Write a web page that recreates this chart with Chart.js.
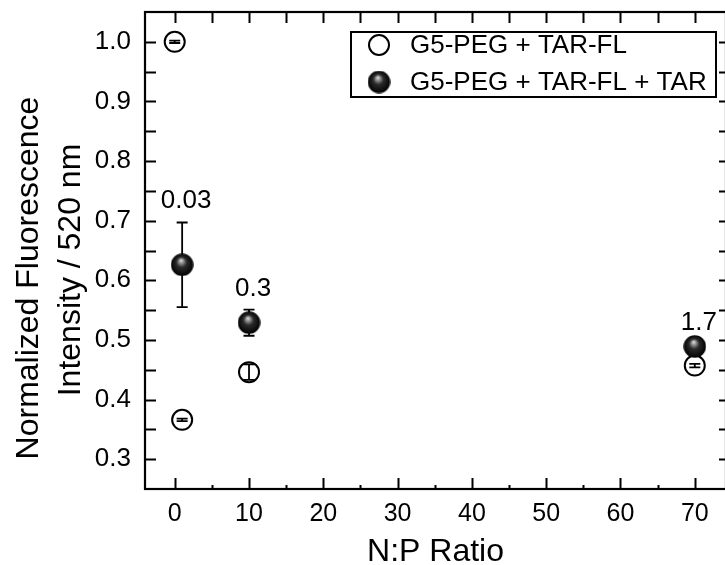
<!DOCTYPE html>
<html>
<head>
<meta charset="utf-8">
<script src="https://cdn.jsdelivr.net/npm/chart.js@4/dist/chart.umd.min.js"></script>
<style>
  html, body { margin: 0; padding: 0; background: #fff; overflow: hidden; }
  #wrap { width: 730px; height: 565px; }
  canvas { display: block; }
</style>
</head>
<body>
<div id="wrap"><canvas id="c" width="730" height="565" style="width:730px;height:565px"></canvas></div>
<script>
// Series names
const seriesNames = ['G5-PEG + TAR-FL', 'G5-PEG + TAR-FL + TAR'];

// G5-PEG + TAR-FL (open circles)
const ratioOpen = [0, 1, 10, 70];
const intensityOpen = [1.0, 0.366, 0.446, 0.457];
const errorOpen = [0.002, 0.002, 0.013, 0.003];

// G5-PEG + TAR-FL + TAR (filled spheres)
const ratioFilled = [1, 10, 70];
const intensityFilled = [0.626, 0.529, 0.489];
const errorFilled = [0.071, 0.022, 0.004];
const filledLabels = ['0.03', '0.3', '1.7'];

// Axis tick labels
const xTickValues = [0, 10, 20, 30, 40, 50, 60, 70];
const yTickValues = [0.3, 0.4, 0.5, 0.6, 0.7, 0.8, 0.9, 1.0];

const FONT = "'Liberation Sans', Arial, sans-serif";

// Glossy black sphere used as the point style of the second series
function makeSphere(d) {
  const cv = document.createElement('canvas');
  cv.width = d; cv.height = d;
  const g = cv.getContext('2d');
  const r = d / 2;
  const grad = g.createRadialGradient(r - r * 0.1, r - r * 0.4, 0, r, r, r);
  grad.addColorStop(0, '#f2f2f2');
  grad.addColorStop(0.12, '#b0b0b0');
  grad.addColorStop(0.45, '#2a2a2a');
  grad.addColorStop(1, '#000000');
  g.fillStyle = grad;
  g.beginPath();
  g.arc(r, r, r - 0.3, 0, Math.PI * 2);
  g.fill();
  return cv;
}
const sphere = makeSphere(23);

// Error bars, drawn beneath the markers
const errorBars = {
  id: 'errorBars',
  beforeDatasetsDraw(chart) {
    const ctx = chart.ctx;
    const y = chart.scales.y;
    const errs = [errorOpen, errorFilled];
    ctx.save();
    ctx.strokeStyle = '#000';
    ctx.lineWidth = 1.8;
    chart.data.datasets.forEach((ds, di) => {
      const meta = chart.getDatasetMeta(di);
      meta.data.forEach((pt, i) => {
        const v = ds.data[i].y, e = errs[di][i];
        const yt = y.getPixelForValue(v + e);
        const yb = y.getPixelForValue(v - e);
        const cap = 5.5;
        ctx.beginPath();
        ctx.moveTo(pt.x, yt); ctx.lineTo(pt.x, yb);
        ctx.moveTo(pt.x - cap, yt); ctx.lineTo(pt.x + cap, yt);
        ctx.moveTo(pt.x - cap, yb); ctx.lineTo(pt.x + cap, yb);
        ctx.stroke();
      });
    });
    ctx.restore();
  }
};

// Value annotations above the filled series
const valueLabels = {
  id: 'valueLabels',
  afterDatasetsDraw(chart) {
    const ctx = chart.ctx;
    const y = chart.scales.y;
    const meta = chart.getDatasetMeta(1);
    ctx.save();
    ctx.fillStyle = '#000';
    ctx.font = '26px ' + FONT;
    ctx.textAlign = 'center';
    ctx.textBaseline = 'alphabetic';
    meta.data.forEach((pt, i) => {
      const top = y.getPixelForValue(intensityFilled[i] + errorFilled[i]);
      ctx.fillText(filledLabels[i], pt.x + 4, top - 14);
    });
    ctx.restore();
  }
};

// Box frame, inward tick marks, y title and legend
const frame = {
  id: 'frame',
  afterDraw(chart) {
    const ctx = chart.ctx;
    const {left, right, top, bottom} = chart.chartArea;
    const xs = chart.scales.x, ys = chart.scales.y;
    ctx.save();
    ctx.strokeStyle = '#000';
    ctx.lineWidth = 2.2;
    ctx.strokeRect(left, top, right - left, bottom - top);

    ctx.lineWidth = 2;
    ctx.beginPath();
    // x ticks every 5: bottom long on tens, short on fives; top all long
    for (let v = 0; v <= 70; v += 5) {
      const px = Math.round(xs.getPixelForValue(v)) + 0.5;
      const major = v % 10 === 0;
      ctx.moveTo(px, bottom); ctx.lineTo(px, bottom - (major ? 11 : 4));
      ctx.moveTo(px, top); ctx.lineTo(px, top + 11);
    }
    // y ticks every 0.05 on both sides
    for (let k = 6; k <= 20; k++) {
      const py = Math.round(ys.getPixelForValue(k * 0.05)) + 0.5;
      ctx.moveTo(left, py); ctx.lineTo(left + 11, py);
      ctx.moveTo(right, py); ctx.lineTo(right - 7, py);
    }
    ctx.stroke();

    // y-axis title (two lines)
    ctx.fillStyle = '#000';
    ctx.font = '32px ' + FONT;
    ctx.textAlign = 'center';
    ctx.textBaseline = 'middle';
    ctx.save();
    ctx.translate(29, 278); ctx.rotate(-Math.PI / 2);
    ctx.fillText('Normalized Fluorescence', 0, 0);
    ctx.restore();
    ctx.save();
    ctx.translate(71, 270); ctx.rotate(-Math.PI / 2);
    ctx.fillText('Intensity / 520 nm', 0, 0);
    ctx.restore();

    // legend
    const lx = 351, ly = 32, lw = 365, lh = 65;
    ctx.fillStyle = '#fff';
    ctx.fillRect(lx, ly, lw, lh);
    ctx.lineWidth = 2;
    ctx.strokeRect(lx, ly, lw, lh);
    const rows = [45, 82];
    ctx.beginPath();
    ctx.arc(379, rows[0], 10, 0, Math.PI * 2);
    ctx.stroke();
    ctx.drawImage(sphere, 379 - sphere.width / 2, rows[1] - sphere.height / 2);
    ctx.fillStyle = '#000';
    ctx.font = '26px ' + FONT;
    ctx.textAlign = 'left';
    ctx.textBaseline = 'middle';
    ctx.fillText(seriesNames[0], 410, rows[0] + 1);
    ctx.fillText(seriesNames[1], 410, rows[1] + 1);
    ctx.restore();
  }
};

new Chart(document.getElementById('c'), {
  type: 'scatter',
  data: {
    datasets: [
      {
        label: seriesNames[0],
        data: ratioOpen.map((x, i) => ({x, y: intensityOpen[i]})),
        pointStyle: 'circle',
        pointRadius: 10,
        pointBorderWidth: 2,
        pointBorderColor: '#000',
        pointBackgroundColor: 'rgba(0,0,0,0)',
        order: 1
      },
      {
        label: seriesNames[1],
        data: ratioFilled.map((x, i) => ({x, y: intensityFilled[i]})),
        pointStyle: sphere,
        pointRadius: 11,
        order: 0
      }
    ]
  },
  options: {
    responsive: false,
    animation: false,
    events: [],
    layout: { autoPadding: false, padding: { top: 12, right: 4, left: 0, bottom: 0 } },
    plugins: { legend: { display: false }, tooltip: { enabled: false } },
    scales: {
      x: {
        type: 'linear',
        min: -4,
        max: 74.2,
        afterBuildTicks: s => { s.ticks = xTickValues.map(v => ({value: v})); },
        afterFit: s => { s.height = 76; s.paddingLeft = 0; s.paddingRight = 0; },
        grid: { display: false, drawTicks: false },
        border: { display: false },
        ticks: { color: '#000', font: { family: FONT, size: 25 }, padding: 10, maxRotation: 0 },
        title: {
          display: true, text: 'N:P Ratio', color: '#000',
          font: { family: FONT, size: 32, lineHeight: 1 }, padding: { top: 0, bottom: -3 }
        }
      },
      y: {
        type: 'linear',
        min: 0.25,
        max: 1.05,
        afterBuildTicks: s => { s.ticks = yTickValues.map(v => ({value: v})); },
        afterFit: s => { s.width = 145; s.paddingTop = 0; s.paddingBottom = 0; },
        grid: { display: false, drawTicks: false },
        border: { display: false },
        ticks: { color: '#000', font: { family: FONT, size: 26 }, padding: 14,
                 callback: v => v.toFixed(1) }
      }
    }
  },
  plugins: [errorBars, valueLabels, frame]
});
</script>
</body>
</html>
